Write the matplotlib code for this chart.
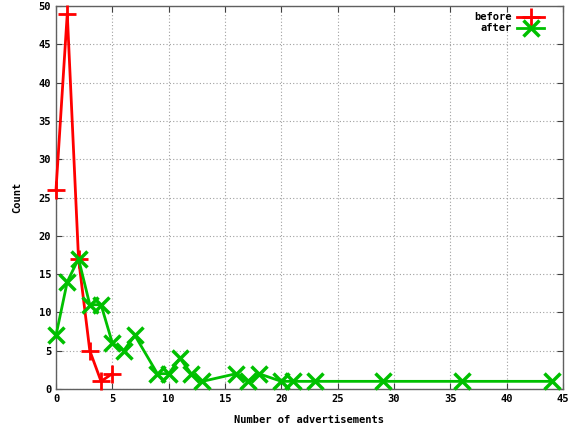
import matplotlib
matplotlib.use("Agg")
import matplotlib.pyplot as plt

# data
before_x = [0, 1, 2, 3, 4, 5]
before_y = [26, 49, 17, 5, 1, 2]
after_x = [0, 1, 2, 3, 4, 5, 6, 7, 9, 10, 11, 12, 13, 16, 17, 18, 20, 21, 23, 29, 36, 44]
after_y = [7, 14, 17, 11, 11, 6, 5, 7, 2, 2, 4, 2, 1, 2, 1, 2, 1, 1, 1, 1, 1, 1]
x_ticks = list(range(0, 46, 5))
y_ticks = list(range(0, 51, 5))

plt.rcParams["font.family"] = ["DejaVu Sans Mono"]
plt.rcParams["font.weight"] = "bold"
plt.rcParams["font.size"] = 7.5

fig = plt.figure(figsize=(5.72, 4.26), dpi=100)
W, H = 572, 426
ax = fig.add_axes([56 / W, (H - 389) / H, (563 - 56) / W, (389 - 6) / H])

ax.plot(before_x, before_y, color="#ff0000", lw=2, marker="+", ms=13, mew=2,
        label="before", clip_on=False, zorder=3)
ax.plot(after_x, after_y, color="#00c000", lw=2, marker="x", ms=12, mew=2.5,
        label="after", clip_on=False, zorder=3)

ax.set_xlim(0, 45)
ax.set_ylim(0, 50)
ax.set_xticks(x_ticks)
ax.set_yticks(y_ticks)
ax.tick_params(direction="in", top=True, right=True, length=4, color="#404040", labelsize=7.5)
ax.grid(True, ls=(0, (1, 2)), color="#a0a0a0", lw=0.8)
for s in ax.spines.values():
    s.set_color("#606060")
    s.set_linewidth(1)

ax.set_xlabel("Number of advertisements", fontsize=7.5, fontweight="bold", labelpad=8)
ax.set_ylabel("Count", fontsize=7.5, fontweight="bold", labelpad=12)

leg = ax.legend(loc="upper right", bbox_to_anchor=(0.975, 1.0), frameon=False,
                markerfirst=False, handlelength=2.6, borderaxespad=0.2,
                labelspacing=0.1, handletextpad=0.5, fontsize=7.5)

fig.savefig("out.png", dpi=100)
